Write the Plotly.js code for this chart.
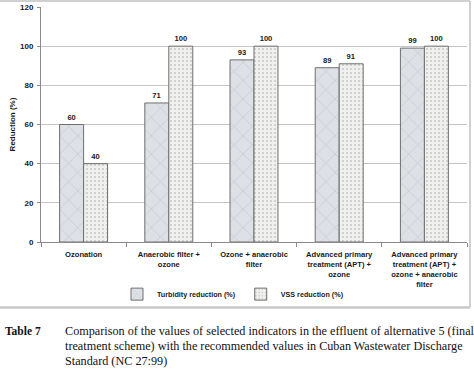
<!DOCTYPE html>
<html><head><meta charset="utf-8">
<script src="https://cdn.plot.ly/plotly-3.0.1.min.js"></script>
<style>html,body{margin:0;padding:0;background:#fff;}#c{width:474px;height:371px;}</style>
</head><body><div id="c"></div>
<script>
const categories = [
  "Ozonation",
  "Anaerobic filter +<br>ozone",
  "Ozone + anaerobic<br>filter",
  "Advanced primary<br>treatment (APT) +<br>ozone",
  "Advanced primary<br>treatment (APT) +<br>ozone + anaerobic<br>filter"
];
const turbidity = [60, 71, 93, 89, 99];
const vss = [40, 100, 100, 91, 100];
const seriesNames = ["Turbidity reduction (%)", "VSS reduction (%)"];
const yTicks = [0, 20, 40, 60, 80, 100, 120];
const captionLabel = "Table 7";
const captionLines = [
  "Comparison of the values of selected indicators in the effluent of alternative 5 (final",
  "treatment scheme) with the recommended values in Cuban Wastewater Discharge",
  "Standard (NC 27:99)"
];

const L = 41, R = 467, T = 7, B = 242.3;
const px = x => (x - L) / (R - L);
const py = y => (B - y) / (B - T);
const SANS = "Liberation Sans, Arial, sans-serif";
const SERIF = "Liberation Serif, Times New Roman, serif";
const bold = {family: SANS, size: 8, color: "#1a1a1a", weight: "bold"};

const traces = [
  {type: "bar", x: categories, y: turbidity, name: seriesNames[0],
   marker: {color: "#dde0e5", line: {color: "#6e6e6e", width: 1},
            pattern: {shape: "x", bgcolor: "#dde0e5", fgcolor: "#c3c7cd", size: 13, solidity: 0.1}},
   text: turbidity.map(String), textposition: "outside", cliponaxis: false,
   textfont: {family: SANS, size: 7.6, color: "#1a1a1a", weight: "bold"}},
  {type: "bar", x: categories, y: vss, name: seriesNames[1],
   marker: {color: "#f0f0ee", line: {color: "#6e6e6e", width: 1},
            pattern: {shape: ".", bgcolor: "#f0f0ee", fgcolor: "#c8c8c6", size: 4, solidity: 0.2}},
   text: vss.map(String), textposition: "outside", cliponaxis: false,
   textfont: {family: SANS, size: 7.6, color: "#1a1a1a", weight: "bold"}}
];

const annotations = [
  {xref: "paper", yref: "paper", x: px(2.5), y: py(331.5), xanchor: "left", yanchor: "middle",
   text: "<b>" + captionLabel + "</b>", showarrow: false,
   font: {family: SERIF, size: 11.5, color: "#111"}}
];
const lineY = [331.5, 346.5, 361.5];
captionLines.forEach((t, i) => annotations.push({
  xref: "paper", yref: "paper", x: px(63), y: py(lineY[i]), xanchor: "left", yanchor: "middle",
  text: t, showarrow: false,
  font: {family: SERIF, size: 12.2, color: "#111"}
}));

const shapes = [
  {type: "line", xref: "paper", yref: "paper", x0: px(0), x1: px(470), y0: py(1), y1: py(1), line: {color: "#d0d0d0", width: 2}},
  {type: "line", xref: "paper", yref: "paper", x0: px(470), x1: px(470), y0: py(1), y1: py(308), line: {color: "#d0d0d0", width: 2}},
  {type: "line", xref: "paper", yref: "paper", x0: px(0), x1: px(470), y0: py(308), y1: py(308), line: {color: "#c8c8c8", width: 2.5}}
];

const layout = {
  width: 474, height: 371,
  margin: {l: L, r: 474 - R, t: T, b: 371 - B, pad: 0},
  paper_bgcolor: "#ffffff", plot_bgcolor: "#ffffff",
  barmode: "group", bargap: 0.437, bargroupgap: 0,
  showlegend: true,
  legend: {orientation: "h", x: px(233), xanchor: "center", y: py(294.5), yanchor: "middle",
           font: {family: SANS, size: 7.2, color: "#1a1a1a", weight: "bold"},
           itemwidth: 30, traceorder: "normal", bgcolor: "rgba(0,0,0,0)"},
  xaxis: {type: "category", showline: true, linecolor: "#8a8a8a", linewidth: 1,
          ticks: "outside", tickson: "boundaries", ticklen: 4, tickcolor: "#8a8a8a",
          ticklabelstandoff: 5,
          tickfont: {family: SANS, size: 7.6, color: "#1a1a1a", weight: "bold"},
          showgrid: false, fixedrange: true},
  yaxis: {range: [0, 120], tickvals: yTicks, ticktext: yTicks.map(String),
          showline: true, linecolor: "#8a8a8a", linewidth: 1,
          ticks: "outside", ticklen: 3, tickcolor: "#8a8a8a",
          ticklabelstandoff: 2,
          gridcolor: "#c4c4c4", gridwidth: 1, zeroline: false,
          tickfont: bold,
          title: {text: "Reduction (%)", font: bold, standoff: 3}},
  annotations: annotations,
  shapes: shapes
};
Plotly.newPlot("c", traces, layout, {displayModeBar: false, staticPlot: true});
</script></body></html>
